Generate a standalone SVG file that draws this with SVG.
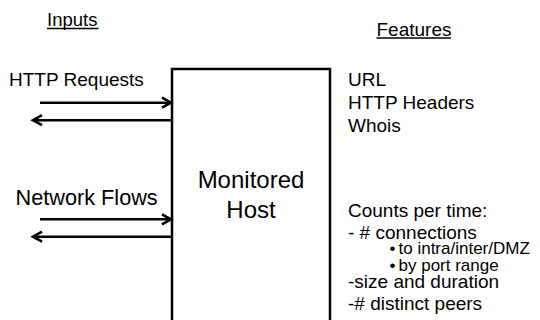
<svg xmlns="http://www.w3.org/2000/svg" width="540" height="320" viewBox="0 0 540 320">
  <style>
    text { font-family: "Liberation Sans", Arial, sans-serif; fill: #000; }
    .hdr { font-size: 18.5px; }
    .lbl { font-size: 19px; }
    .big { font-size: 24px; }
    .sub { font-size: 17px; }
    .ul { stroke: #000; stroke-width: 1.4; }
    .arr { stroke: #000; stroke-width: 2.6; fill: none; marker-end: url(#chev); }
  </style>
  <defs>
    <marker id="chev" markerUnits="userSpaceOnUse" markerWidth="16" markerHeight="16" viewBox="-12 -8 16 16" refX="0" refY="0" orient="auto">
      <path d="M-9,-5 L0,0 L-9,5" fill="none" stroke="#000" stroke-width="2.6" stroke-linejoin="miter"/>
    </marker>
  </defs>
  <rect width="540" height="320" fill="#fff"/>

  <g id="inputs-header">
    <text class="hdr" x="47" y="26">Inputs</text>
    <line class="ul" x1="47" y1="28.5" x2="98.5" y2="28.5"/>
  </g>
  <g id="features-header">
    <text class="lbl" x="376.5" y="35.5">Features</text>
    <line class="ul" x1="376.5" y1="38" x2="451" y2="38"/>
  </g>

  <g id="http-requests">
    <text class="lbl" x="9" y="86">HTTP Requests</text>
  </g>
  <g id="network-flows">
    <text x="15.5" y="204.5" style="font-size:21.7px">Network Flows</text>
  </g>

  <g id="monitored-host">
    <rect x="172" y="69" width="158" height="270" fill="#fff" stroke="#000" stroke-width="2.5"/>
    <text class="big" x="251" y="188" text-anchor="middle">Monitored</text>
    <text class="big" x="251" y="218" text-anchor="middle">Host</text>
  </g>

  <g id="features">
    <text class="lbl" x="348" y="86">URL</text>
    <text class="lbl" x="348" y="109">HTTP Headers</text>
    <text class="lbl" x="348" y="131.7">Whois</text>
    <text class="lbl" x="348" y="216.7">Counts per time:</text>
    <text class="lbl" x="348" y="239.3">- # connections</text>
    <text class="sub" x="389.5" y="253.5">•</text>
    <text class="sub" x="398.5" y="253.5">to intra/inter/DMZ</text>
    <text class="sub" x="389.5" y="270.5">•</text>
    <text class="sub" x="398.5" y="270.5">by port range</text>
    <text class="lbl" x="348" y="288.3">-size and duration</text>
    <text class="lbl" x="348" y="310">-# distinct peers</text>
  </g>

  <g id="connectors">
    <line class="arr" x1="40" y1="102.7" x2="171" y2="102.7"/>
    <line class="arr" x1="172" y1="120.2" x2="33" y2="120.2"/>
    <line class="arr" x1="40" y1="219.3" x2="171" y2="219.3"/>
    <line class="arr" x1="172" y1="236.7" x2="33" y2="236.7"/>
  </g>
</svg>
